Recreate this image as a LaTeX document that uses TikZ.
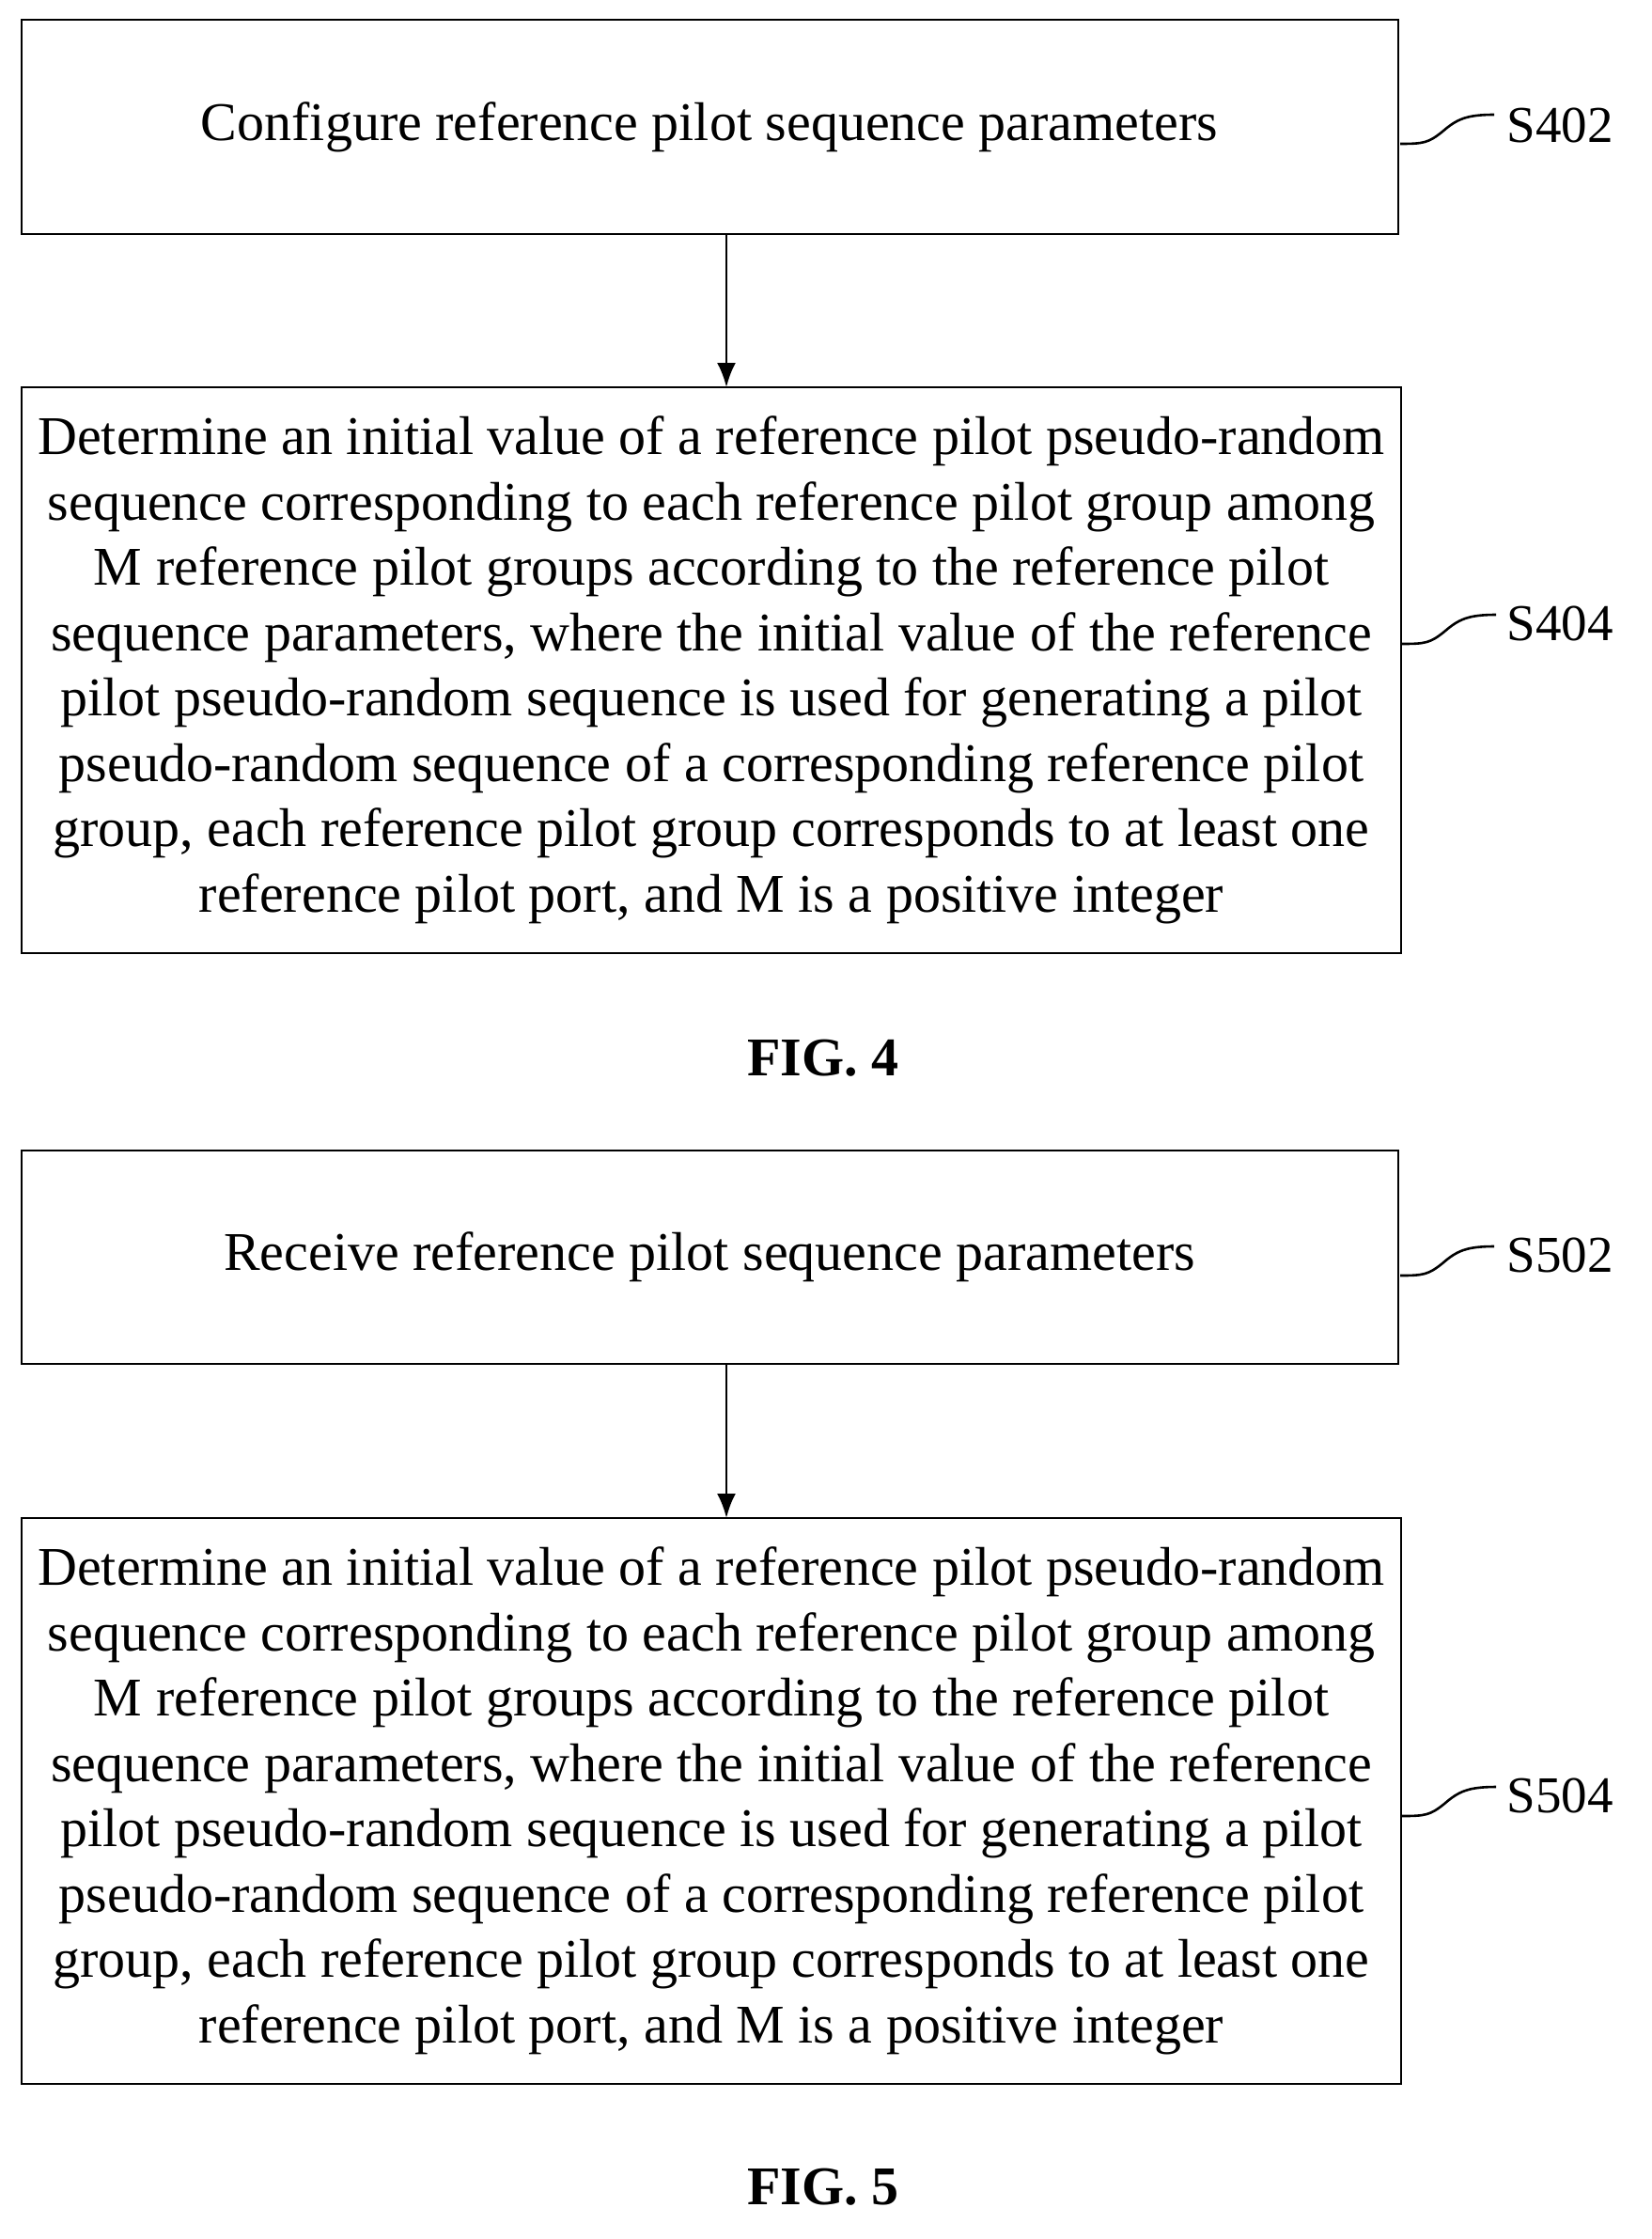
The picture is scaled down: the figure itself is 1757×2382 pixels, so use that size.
\documentclass[tikz,border=0pt]{standalone}
\usepackage{fontspec}
\setmainfont{Liberation Serif}
\usetikzlibrary{arrows.meta}
\begin{document}
\begin{tikzpicture}[x=1pt,y=-1pt,
 box/.style={draw,line width=2.8pt,inner sep=0pt},
 txt/.style={align=center,font=\fontsize{58}{69.5}\selectfont},
 lab/.style={font=\fontsize{55}{60}\selectfont,anchor=west},
 fig/.style={font=\fontsize{58}{60}\selectfont\bfseries},
 arr/.style={line width=2.8pt,-{Latex[length=26pt,width=20pt]}},
 sq/.style={line width=2.6pt}]
\useasboundingbox (0,0) rectangle (1757,2382);
% FIG 4
\draw[box] (23,21) rectangle (1488,249);
\node[txt] (t1) at (755,135) {Configure reference pilot sequence parameters};
\draw[box] (23,412) rectangle (1491,1014);
\node[txt] (t2) at (757,713) {Determine an initial value of a reference pilot pseudo-random\\sequence corresponding to each reference pilot group among\\M reference pilot groups according to the reference pilot\\sequence parameters, where the initial value of the reference\\pilot pseudo-random sequence is used for generating a pilot\\pseudo-random sequence of a corresponding reference pilot\\group, each reference pilot group corresponds to at least one\\reference pilot port, and M is a positive integer};
\coordinate (a1) at (773,249); \coordinate (b1) at (773,412);
\draw[arr] (a1) -- (b1);
\node[lab] (s402) at (1600,133) {S402};
\draw[sq] (1490,153) .. controls (1515,153) and (1520,152) .. (1535,140) .. controls (1550,127) and (1560,122) .. (1590,122);
\node[lab] (s404) at (1600,663) {S404};
\draw[sq] (1492,685) .. controls (1517,685) and (1522,684) .. (1537,672) .. controls (1552,659) and (1562,654) .. (1592,654);
\node[fig] (f4) at (876,1126) {FIG. 4};
% FIG 5
\draw[box] (23,1224) rectangle (1488,1451);
\node[txt] (t3) at (755,1337) {Receive reference pilot sequence parameters};
\draw[box] (23,1615) rectangle (1491,2217);
\node[txt] (t4) at (757,1916) {Determine an initial value of a reference pilot pseudo-random\\sequence corresponding to each reference pilot group among\\M reference pilot groups according to the reference pilot\\sequence parameters, where the initial value of the reference\\pilot pseudo-random sequence is used for generating a pilot\\pseudo-random sequence of a corresponding reference pilot\\group, each reference pilot group corresponds to at least one\\reference pilot port, and M is a positive integer};
\coordinate (a2) at (773,1451); \coordinate (b2) at (773,1615);
\draw[arr] (a2) -- (b2);
\node[lab] (s502) at (1600,1335) {S502};
\draw[sq] (1490,1357) .. controls (1515,1357) and (1520,1356) .. (1535,1344) .. controls (1550,1331) and (1560,1326) .. (1590,1326);
\node[lab] (s504) at (1600,1910) {S504};
\draw[sq] (1492,1932) .. controls (1517,1932) and (1522,1931) .. (1537,1919) .. controls (1552,1906) and (1562,1901) .. (1592,1901);
\node[fig] (f5) at (876,2327) {FIG. 5};
\end{tikzpicture}
\end{document}
